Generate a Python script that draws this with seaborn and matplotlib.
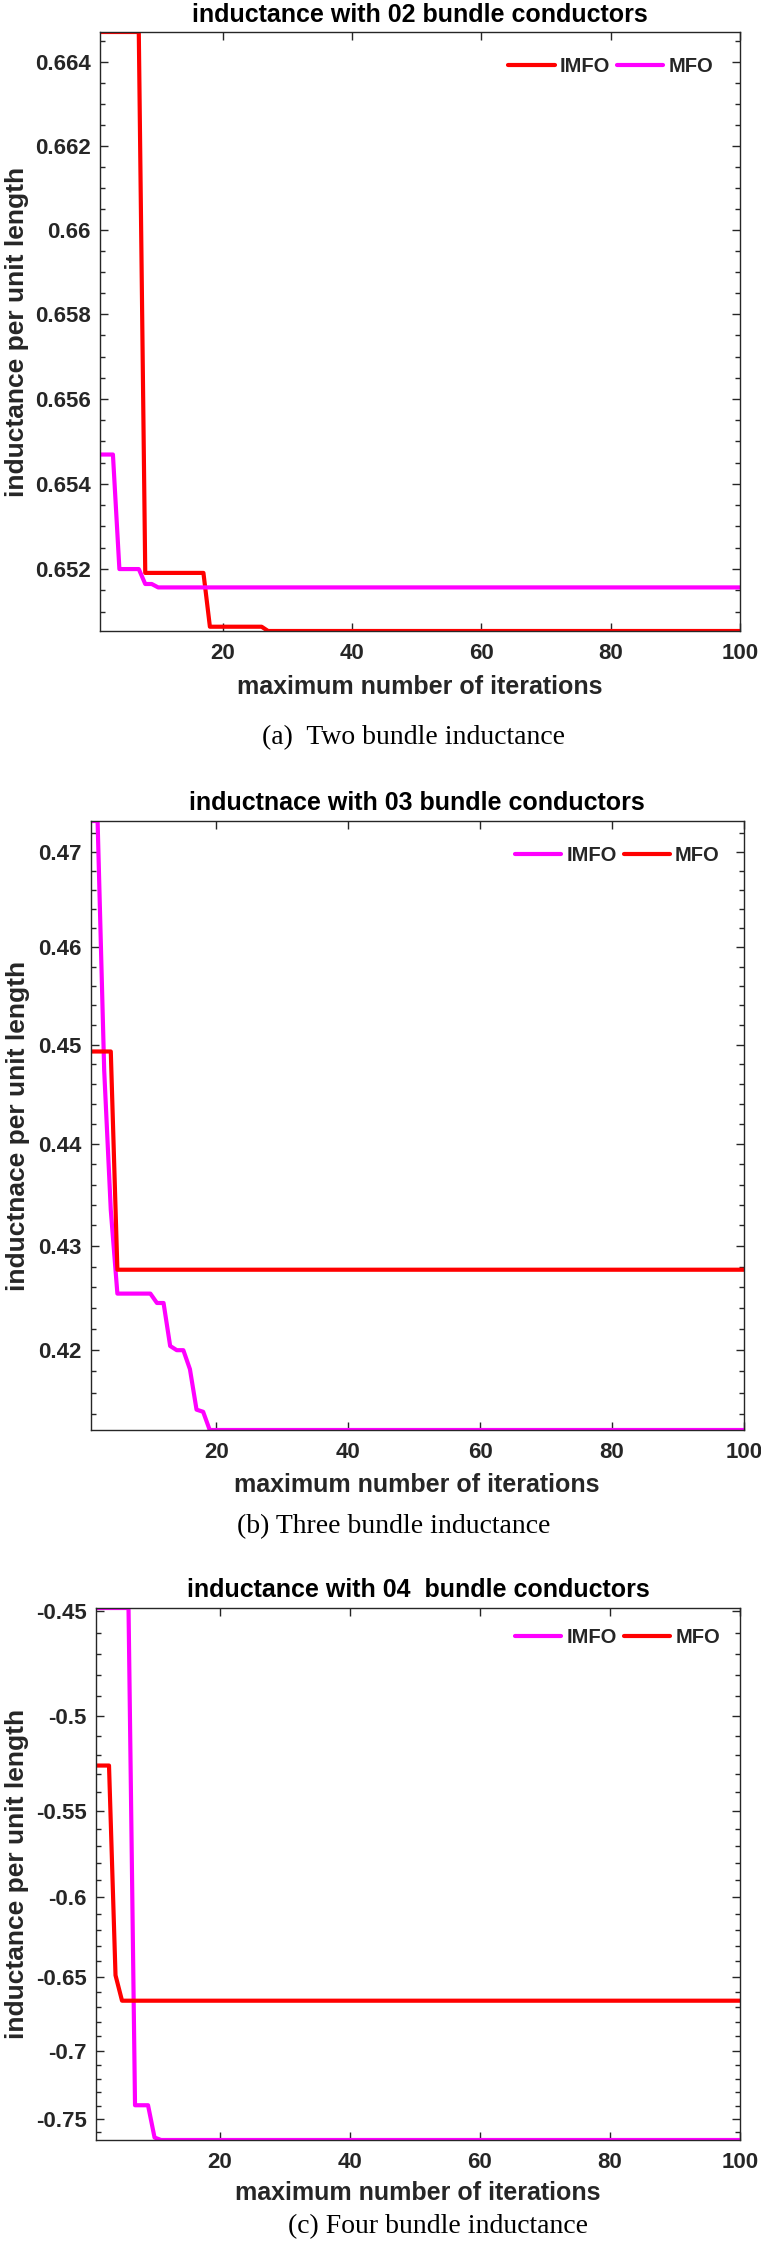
import matplotlib
matplotlib.use("Agg")
import matplotlib.pyplot as plt
from matplotlib.lines import Line2D
from matplotlib.ticker import FixedLocator, FixedFormatter, NullFormatter
import numpy as np
import pandas as pd
import seaborn as sns

# curves are steps: (first iteration, value)
iterations = list(range(1, 101))

imfo_02 = [(1, 0.66471), (8, 0.65191), (18, 0.65065), (27, 0.65055)]
mfo_02 = [(1, 0.65469), (4, 0.65200), (8, 0.65165), (10, 0.65157)]

imfo_03 = [(1, 0.4733), (3, 0.4474), (4, 0.4335), (5, 0.4254), (11, 0.4245), (13, 0.4204),
           (14, 0.4200), (16, 0.4182), (17, 0.4144), (18, 0.4142), (19, 0.4125)]
mfo_03 = [(1, 0.4493), (5, 0.4277)]

imfo_04 = [(1, -0.4486), (7, -0.7396), (10, -0.7640), (11, -0.7659)]
mfo_04 = [(1, -0.5256), (4, -0.6490), (5, -0.6658)]

ticks_02 = [0.652, 0.654, 0.656, 0.658, 0.660, 0.662, 0.664]
labels_02 = ["0.652", "0.654", "0.656", "0.658", "0.66", "0.662", "0.664"]
ticks_03 = [0.42, 0.43, 0.44, 0.45, 0.46, 0.47]
labels_03 = ["0.42", "0.43", "0.44", "0.45", "0.46", "0.47"]
ticks_04 = [-0.75, -0.70, -0.65, -0.60, -0.55, -0.50, -0.45]
labels_04 = ["-0.75", "-0.7", "-0.65", "-0.6", "-0.55", "-0.5", "-0.45"]
x_ticks = [20, 40, 60, 80, 100]

RED = "#ff0000"
MAGENTA = "#ff00ff"
DARK = "#262626"

W, H = 761, 2245


def expand(steps):
    out = []
    for it in iterations:
        val = None
        for start, v in steps:
            if start <= it:
                val = v
        out.append(val)
    return out


def px_axes(left, top, right, bottom):
    return [left / W, 1 - bottom / H, (right - left) / W, (bottom - top) / H]


def fx(x):
    return x / W


def fy(y):
    return 1 - y / H


sns.set_theme(style="white")
plt.rcParams['font.family'] = ['Liberation Sans', 'DejaVu Sans']
plt.rcParams['font.weight'] = 'bold'

fig = plt.figure(figsize=(W / 100, H / 100), dpi=100)

panels = [
    dict(box=(100, 32, 740, 631), imfo=imfo_02, mfo=mfo_02, colors=(RED, MAGENTA),
         ticks=ticks_02, labels=labels_02, minor=np.arange(0.6510, 0.6647, 0.0005),
         scale="log", title="inductance with 02 bundle conductors", title_xy=(420, 15),
         ylabel="inductance per unit length", ylabel_xy=(17, 332), xlabel_xy=(420, 687),
         caption="(a)  Two bundle inductance", caption_xy=(413, 738), legend_xy=(0.958, 0.943)),
    dict(box=(91, 821, 744, 1430), imfo=imfo_03, mfo=mfo_03, colors=(MAGENTA, RED),
         ticks=ticks_03, labels=labels_03, minor=np.arange(0.414, 0.4731, 0.002),
         scale="log", title="inductnace with 03 bundle conductors", title_xy=(417, 803),
         ylabel="inductnace per unit length", ylabel_xy=(18, 1126), xlabel_xy=(417, 1485),
         caption="(b) Three bundle inductance", caption_xy=(394, 1527), legend_xy=(0.963, 0.944)),
    dict(box=(96, 1608, 740, 2140), imfo=imfo_04, mfo=mfo_04, colors=(MAGENTA, RED),
         ticks=ticks_04, labels=labels_04, minor=np.arange(-0.76, -0.449, 0.01),
         scale="neglog", title="inductance with 04  bundle conductors", title_xy=(418, 1590),
         ylabel="inductance per unit length", ylabel_xy=(17, 1874), xlabel_xy=(418, 2193),
         caption="(c) Four bundle inductance", caption_xy=(438, 2227), legend_xy=(0.969, 0.945)),
]

for p in panels:
    ax = fig.add_axes(px_axes(*p["box"]))
    imfo_vals = expand(p["imfo"])
    mfo_vals = expand(p["mfo"])
    df = pd.DataFrame({
        'iteration': iterations * 2,
        'value': imfo_vals + mfo_vals,
        'method': ['IMFO'] * len(iterations) + ['MFO'] * len(iterations),
    })
    pal = {'IMFO': p["colors"][0], 'MFO': p["colors"][1]}
    sns.lineplot(data=df, x='iteration', y='value', hue='method', hue_order=['IMFO', 'MFO'],
                 palette=pal, estimator=None, linewidth=3.0, legend=False, ax=ax)

    if p["scale"] == "log":
        ax.set_yscale('log')
    else:
        ax.set_yscale('function', functions=(lambda y: -np.log(np.abs(y)),
                                             lambda f: -np.exp(-f)))
    all_vals = imfo_vals + mfo_vals
    ax.set_ylim(min(all_vals), max(all_vals))
    ax.set_xlim(1, 100)

    ax.yaxis.set_major_locator(FixedLocator(p["ticks"]))
    ax.yaxis.set_major_formatter(FixedFormatter(p["labels"]))
    ax.yaxis.set_minor_locator(FixedLocator(p["minor"]))
    ax.yaxis.set_minor_formatter(NullFormatter())
    ax.set_xticks(x_ticks)
    ax.set_xticklabels([str(t) for t in x_ticks])

    ax.tick_params(which='both', direction='in', top=True, right=True, left=True, bottom=True,
                   color=DARK, width=1.0)
    ax.tick_params(which='major', length=6, labelsize=16, labelcolor=DARK)
    ax.tick_params(which='minor', length=3.5)
    ax.tick_params(axis='y', which='major', pad=6.5)
    ax.tick_params(axis='x', which='major', pad=8.5)
    ax.tick_params(axis='x', which='minor', bottom=False, top=False)
    for lab in ax.get_xticklabels() + ax.get_yticklabels():
        lab.set_fontweight('bold')
    for s in ax.spines.values():
        s.set_color(DARK)
        s.set_linewidth(1.0)
    ax.set_xlabel("")
    ax.set_ylabel("")

    handles = [Line2D([], [], color=p["colors"][0], lw=3.0),
               Line2D([], [], color=p["colors"][1], lw=3.0)]
    ax.legend(handles, ['IMFO', 'MFO'], loc='center right', bbox_to_anchor=p["legend_xy"],
              ncol=2, frameon=False, borderpad=0, borderaxespad=0, handlelength=2.3,
              handletextpad=0.25, columnspacing=0.35, prop={'size': 14.5, 'weight': 'bold'})

    fig.text(fx(p["title_xy"][0]), fy(p["title_xy"][1]), p["title"], ha='center', va='center',
             fontsize=18, fontweight='bold', color='black')
    fig.text(fx(p["xlabel_xy"][0]), fy(p["xlabel_xy"][1]), "maximum number of iterations",
             ha='center', va='center', fontsize=18, fontweight='bold', color=DARK)
    fig.text(fx(p["ylabel_xy"][0]), fy(p["ylabel_xy"][1]), p["ylabel"], rotation=90,
             ha='center', va='center', fontsize=19, fontweight='bold', color=DARK)
    fig.text(fx(p["caption_xy"][0]), fy(p["caption_xy"][1]), p["caption"], ha='center',
             va='center', fontsize=20, fontweight='normal', color='black',
             family=['Liberation Serif', 'DejaVu Serif'])

fig.savefig("out.png", dpi=100, facecolor='white')
